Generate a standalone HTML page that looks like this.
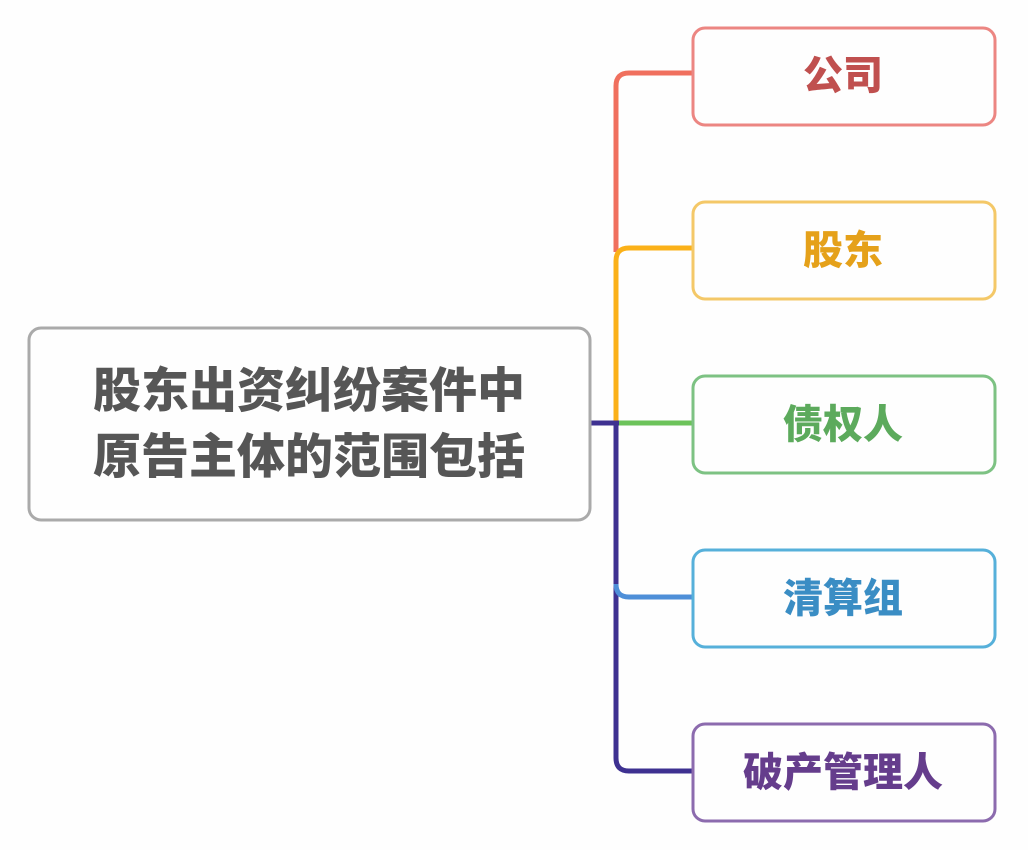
<!DOCTYPE html>
<html><head><meta charset="utf-8">
<style>
html,body{margin:0;padding:0;background:#fefefe;}
svg{display:block;}
text{font-family:"Liberation Sans","Noto Sans CJK SC",sans-serif;font-weight:900;}
</style></head>
<body>
<svg width="1028" height="850" viewBox="0 0 1028 850" xmlns="http://www.w3.org/2000/svg">
<rect width="1028" height="850" fill="#fefefe"/>
<g fill="none" stroke-width="5" stroke-linecap="butt">
  <path d="M616 252 V86 Q616 73 629 73 H693" stroke="#f0705e"/>
  <path d="M616 425 V261 Q616 248 629 248 H693" stroke="#fbb119"/>
  <path d="M616 423 H693" stroke="#6cc35a"/>
  <path d="M591 423 H619" stroke="#3e3191"/>
  <path d="M616 421 V758 Q616 771 629 771 H693" stroke="#3e3191"/>
  <path d="M616 584 Q616 597 629 597 H693" stroke="#4e8fd8"/>
</g>
<g fill="#fefefe" stroke-width="3">
  <rect x="29" y="328" width="561" height="192" rx="12" stroke="#aaaaaa"/>
  <rect x="693" y="28" width="302" height="97" rx="12" stroke="#ec8682"/>
  <rect x="693" y="202" width="302" height="97" rx="12" stroke="#f4c868"/>
  <rect x="693" y="376" width="302" height="97" rx="12" stroke="#7dc283"/>
  <rect x="693" y="550" width="302" height="97" rx="12" stroke="#56b0da"/>
  <rect x="693" y="724" width="302" height="97" rx="12" stroke="#8c6bae"/>
</g>
<g text-anchor="middle">
  <text x="309" y="407" font-size="48" fill="#565656">股东出资纠纷案件中</text>
  <text x="309" y="473" font-size="48" fill="#565656">原告主体的范围包括</text>
  <text x="843" y="89" font-size="40" fill="#c0504f">公司</text>
  <text x="843" y="264" font-size="40" fill="#e5a11a">股东</text>
  <text x="843" y="438" font-size="40" fill="#5caa5c">债权人</text>
  <text x="843" y="612" font-size="40" fill="#3a8dc4">清算组</text>
  <text x="843" y="786" font-size="40" fill="#653d8c">破产管理人</text>
</g>
</svg>
</body></html>
